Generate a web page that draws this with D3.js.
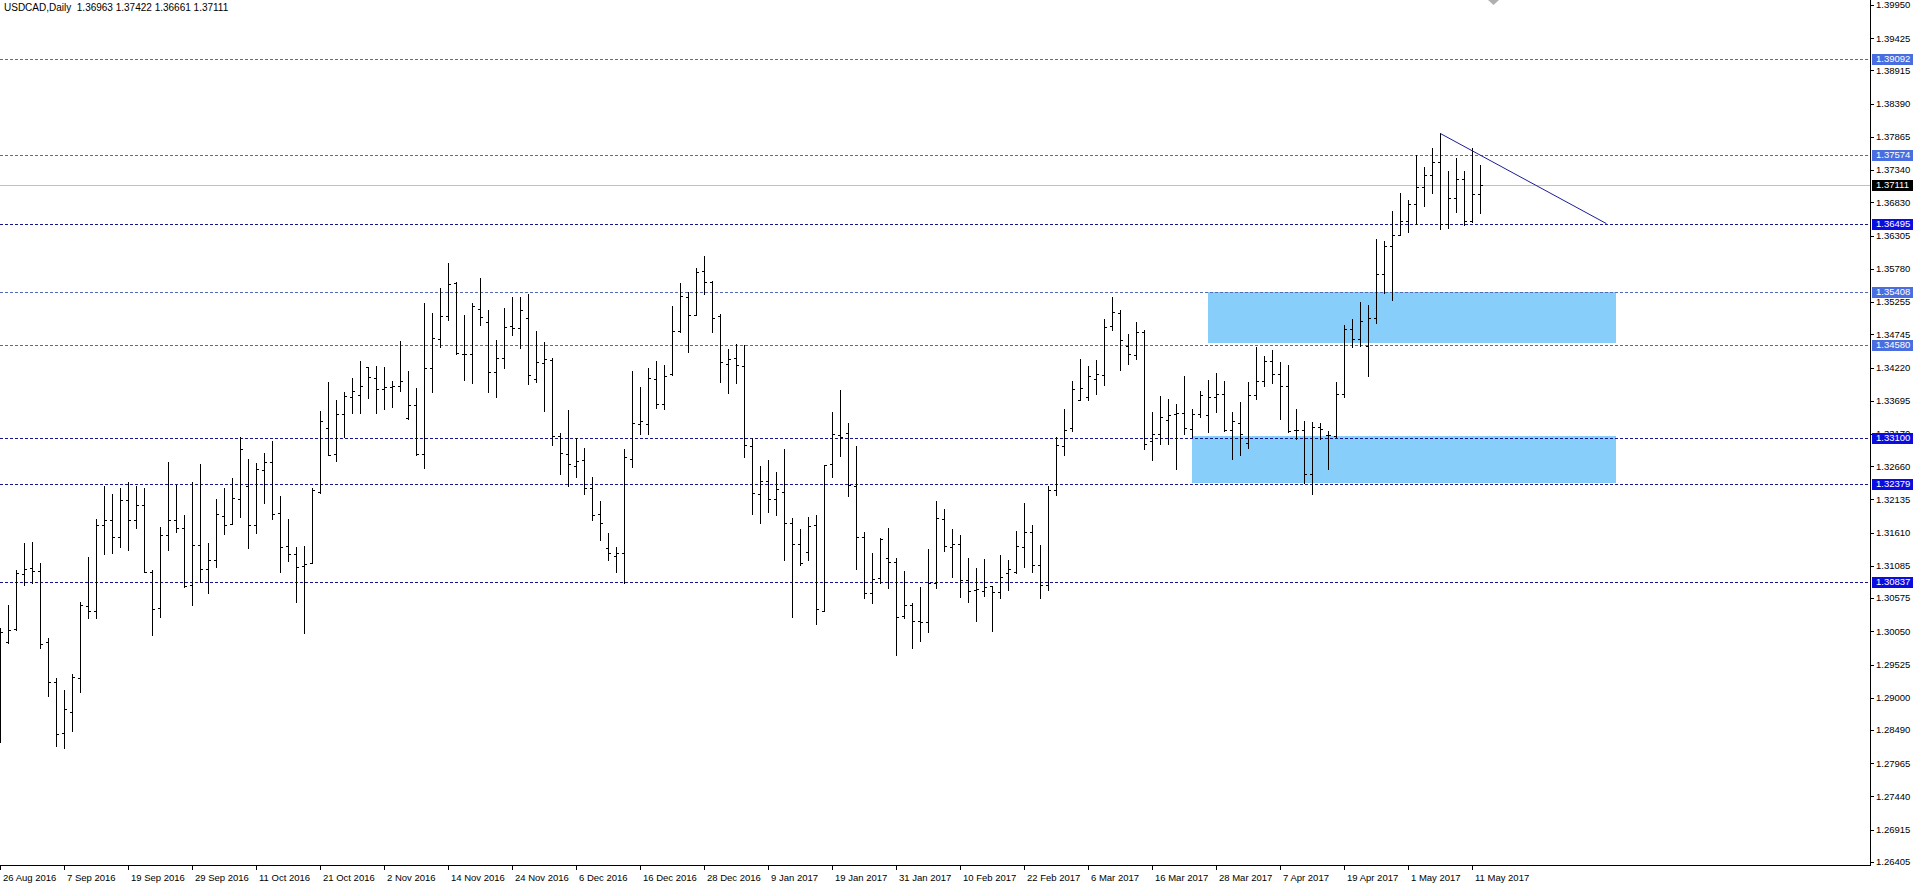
<!DOCTYPE html>
<html><head><meta charset="utf-8">
<script src="https://cdn.jsdelivr.net/npm/d3@7"></script>
<style>html,body{margin:0;padding:0;background:#fff;overflow:hidden}</style>
</head><body>
<svg id="c" width="1914" height="889"></svg>
<script>
const symbolTitle = "USDCAD,Daily";
const headerOHLC = ["1.36963", "1.37422", "1.36661", "1.37111"];
const dateLabels = ["26 Aug 2016","7 Sep 2016","19 Sep 2016","29 Sep 2016","11 Oct 2016","21 Oct 2016","2 Nov 2016","14 Nov 2016","24 Nov 2016","6 Dec 2016","16 Dec 2016","28 Dec 2016","9 Jan 2017","19 Jan 2017","31 Jan 2017","10 Feb 2017","22 Feb 2017","6 Mar 2017","16 Mar 2017","28 Mar 2017","7 Apr 2017","19 Apr 2017","1 May 2017","11 May 2017"];
const barsPerLabel = 8;

const opens = [1.28964,1.29876,1.30086,1.30951,1.31046,1.31003,1.29876,1.29253,1.28437,1.28769,1.29307,1.30449,1.30375,1.31730,1.31809,1.31540,1.32125,1.31809,1.32046,1.30992,1.30422,1.31572,1.31809,1.31683,1.30781,1.31414,1.31035,1.31177,1.31872,1.31746,1.32141,1.32346,1.31730,1.32594,1.32720,1.31915,1.31398,1.31267,1.31082,1.31125,1.32252,1.33259,1.32852,1.33480,1.33749,1.33791,1.34222,1.34054,1.33875,1.33906,1.33932,1.33417,1.33627,1.32852,1.34207,1.34670,1.35039,1.35551,1.34433,1.34428,1.35145,1.34944,1.34154,1.34365,1.34875,1.34839,1.35007,1.34033,1.34286,1.34338,1.33137,1.32857,1.32662,1.32757,1.32310,1.31899,1.31372,1.31240,1.31283,1.32773,1.33327,1.33327,1.34038,1.33638,1.34112,1.34797,1.35339,1.35045,1.35750,1.35577,1.35034,1.34270,1.34365,1.34243,1.32978,1.32220,1.32425,1.32146,1.32247,1.31767,1.31425,1.31308,1.31730,1.30370,1.32689,1.33153,1.33190,1.32352,1.31546,1.30649,1.30887,1.31204,1.31151,1.30296,1.30465,1.30217,1.30191,1.30808,1.31820,1.31377,1.31425,1.30860,1.30702,1.30691,1.30770,1.30665,1.30966,1.30992,1.31377,1.31620,1.31098,1.30781,1.32283,1.32974,1.33269,1.33711,1.33754,1.34043,1.34101,1.34870,1.35081,1.34555,1.34412,1.34781,1.33058,1.33174,1.33385,1.33490,1.33506,1.33253,1.33480,1.33464,1.33754,1.33796,1.33226,1.33338,1.33031,1.33785,1.34006,1.34317,1.34117,1.33927,1.33232,1.33232,1.32531,1.33285,1.33153,1.33137,1.33796,1.34828,1.34670,1.34559,1.34997,1.35693,1.36146,1.36319,1.36531,1.36804,1.37068,1.37263,1.37463,1.36488,1.36894,1.37195,1.36535,1.36963];
const highs = [1.30097,1.30465,1.31019,1.31441,1.31466,1.31125,1.29939,1.29307,1.29122,1.29370,1.30517,1.31229,1.31825,1.32346,1.32220,1.32315,1.32409,1.32346,1.32315,1.31019,1.31699,1.32725,1.32362,1.31888,1.32409,1.32694,1.31441,1.32141,1.32310,1.32468,1.33127,1.32773,1.32714,1.32872,1.33063,1.32188,1.31830,1.31377,1.31398,1.32310,1.33537,1.33985,1.33706,1.33838,1.34054,1.34322,1.34222,1.34243,1.34222,1.34006,1.34638,1.34164,1.33891,1.35235,1.35077,1.35472,1.35867,1.35567,1.35050,1.35235,1.35630,1.35129,1.34654,1.35155,1.35329,1.35339,1.35377,1.34797,1.34618,1.34365,1.33180,1.33548,1.33101,1.32942,1.32494,1.32109,1.31608,1.31388,1.32926,1.34164,1.33917,1.34212,1.34322,1.34259,1.35193,1.35551,1.35418,1.35788,1.35982,1.35587,1.35065,1.34512,1.34586,1.34575,1.33111,1.32662,1.32757,1.32567,1.32926,1.31836,1.31662,1.31862,1.31888,1.32678,1.33511,1.33864,1.33338,1.32978,1.31625,1.31283,1.31520,1.31678,1.31214,1.31003,1.30491,1.30755,1.31351,1.32109,1.31983,1.31667,1.31572,1.31214,1.31056,1.31193,1.30770,1.31256,1.31177,1.31635,1.32083,1.31730,1.31414,1.32346,1.33121,1.33569,1.34001,1.34359,1.34243,1.34343,1.34981,1.35334,1.35134,1.34744,1.34939,1.34817,1.33516,1.33775,1.33717,1.33648,1.34080,1.33569,1.33848,1.34017,1.34133,1.34006,1.33516,1.33680,1.33986,1.34539,1.34401,1.34496,1.34312,1.34259,1.33559,1.33380,1.33364,1.33348,1.33216,1.33986,1.34891,1.34981,1.35250,1.35203,1.36246,1.36225,1.36693,1.36973,1.36867,1.37579,1.37394,1.37690,1.37922,1.37326,1.37536,1.37326,1.37685,1.37422];
const lows = [1.28304,1.29860,1.30070,1.30781,1.30808,1.29790,1.29032,1.28241,1.28200,1.28473,1.29086,1.30264,1.30264,1.31272,1.31283,1.31387,1.31335,1.31683,1.30983,1.29991,1.30280,1.31335,1.31620,1.30749,1.30465,1.30833,1.30659,1.31071,1.31588,1.31741,1.31852,1.31372,1.31608,1.32073,1.31830,1.30992,1.31166,1.30517,1.30028,1.31125,1.32241,1.32837,1.32746,1.33127,1.33506,1.33506,1.33733,1.33506,1.33569,1.33590,1.33843,1.33401,1.32842,1.32631,1.33838,1.34549,1.34970,1.34428,1.34022,1.33980,1.34891,1.33838,1.33759,1.34217,1.34733,1.34523,1.33954,1.33986,1.33537,1.32989,1.32531,1.32352,1.32494,1.32215,1.31809,1.31493,1.31177,1.30992,1.30808,1.32652,1.33169,1.33164,1.33575,1.33559,1.34101,1.34781,1.34470,1.35045,1.35382,1.34786,1.33996,1.33822,1.33970,1.32800,1.31899,1.31757,1.31941,1.31888,1.31177,1.30270,1.31098,1.31177,1.30165,1.30370,1.32494,1.32826,1.32188,1.31040,1.30580,1.30501,1.30818,1.30739,1.29675,1.30254,1.29780,1.29901,1.30043,1.30728,1.31324,1.30913,1.30596,1.30517,1.30217,1.30612,1.30054,1.30580,1.30707,1.30976,1.31071,1.30987,1.30576,1.30702,1.32204,1.32837,1.33216,1.33701,1.33711,1.33806,1.33948,1.34807,1.34185,1.34280,1.34359,1.32936,1.32752,1.33016,1.33016,1.32620,1.33174,1.33121,1.33438,1.33200,1.33516,1.33216,1.32768,1.32842,1.32942,1.33717,1.33927,1.33970,1.33401,1.33205,1.33084,1.32389,1.32220,1.33084,1.32610,1.33127,1.33759,1.34549,1.34559,1.34090,1.34918,1.35402,1.35287,1.36314,1.36357,1.36488,1.36777,1.36983,1.36404,1.36420,1.36683,1.36472,1.36525,1.36661];
const closes = [1.30043,1.30070,1.30967,1.31030,1.31003,1.29844,1.29253,1.28421,1.28821,1.29333,1.30465,1.30375,1.31730,1.31809,1.31540,1.32125,1.31809,1.32046,1.30992,1.30402,1.31572,1.31809,1.31683,1.30770,1.31414,1.31030,1.31177,1.31904,1.31730,1.32152,1.32926,1.31730,1.32615,1.32730,1.31904,1.31377,1.31267,1.31061,1.31109,1.32283,1.33374,1.32842,1.33480,1.33775,1.33848,1.33927,1.34064,1.33875,1.33906,1.33932,1.34006,1.33627,1.32852,1.34207,1.34681,1.35039,1.35535,1.34443,1.34433,1.35193,1.35018,1.34154,1.34375,1.34860,1.34849,1.35129,1.34101,1.34302,1.34349,1.33137,1.32868,1.32694,1.32741,1.32310,1.31888,1.31767,1.31283,1.31283,1.32800,1.33338,1.33374,1.34059,1.33638,1.34091,1.34797,1.35350,1.35045,1.35735,1.35577,1.34997,1.34312,1.34359,1.34259,1.32994,1.32231,1.32425,1.32146,1.32294,1.31767,1.31425,1.31125,1.31720,1.30397,1.32678,1.33164,1.33127,1.32362,1.31535,1.30649,1.30871,1.31509,1.31151,1.30270,1.30465,1.30217,1.30191,1.30808,1.31836,1.31403,1.31425,1.30860,1.30691,1.30713,1.30744,1.30665,1.30902,1.31035,1.31393,1.31615,1.31098,1.30781,1.32283,1.32990,1.33227,1.33885,1.33901,1.34080,1.34112,1.34860,1.35097,1.34649,1.34428,1.34781,1.33006,1.33174,1.33438,1.33464,1.33506,1.33269,1.33490,1.33780,1.33754,1.33796,1.33237,1.33374,1.33164,1.33785,1.34006,1.34317,1.34112,1.33927,1.33216,1.33232,1.32531,1.33275,1.33253,1.33153,1.33796,1.34828,1.34670,1.34950,1.34997,1.35693,1.36146,1.36319,1.36531,1.36804,1.37068,1.37263,1.37473,1.36488,1.36894,1.37195,1.36535,1.36962,1.37111];

const priceTicks = [1.39950,1.39425,1.38915,1.38390,1.37865,1.37340,1.36830,1.36305,1.35780,1.35255,1.34745,1.34220,1.33695,1.33170,1.32660,1.32135,1.31610,1.31085,1.30575,1.30050,1.29525,1.29000,1.28490,1.27965,1.27440,1.26915,1.26405];
const levelsLight = [1.39092, 1.37574, 1.35408, 1.34580];
const levelsDark = [1.36495, 1.33100, 1.32379, 1.30837];
const bidPrice = 1.37111;
const zoneStart = [151, 149];
const zoneEnd = [202, 202];
const zoneTop = [1.35408, 1.33137];
const zoneBottom = [1.34612, 1.32390];
const trendIdx = [180, 200.8];
const trendPrice = [1.37922, 1.36495];

const plotRight = 1870, plotBottom = 865;
const x = d3.scaleLinear().domain([0, 233.75]).range([0, plotRight]);
const y = d3.scaleLinear().domain([1.263557, 1.400294]).range([plotBottom, 0]);
const FONT = "'Liberation Sans', Arial, sans-serif";

const svg = d3.select("#c");
svg.append("rect").attr("width",1914).attr("height",889).attr("fill","#fff");

const gPlot = svg.append("g").attr("shape-rendering","crispEdges");

// zones
gPlot.selectAll("rect.zone").data(zoneStart).join("rect").attr("class","zone")
  .attr("x",(d,i)=>Math.round(x(d)))
  .attr("width",(d,i)=>Math.round(x(zoneEnd[i]))-Math.round(x(d)))
  .attr("y",(d,i)=>Math.round(y(zoneTop[i])))
  .attr("height",(d,i)=>Math.round(y(zoneBottom[i]))-Math.round(y(zoneTop[i])))
  .attr("fill","#87cefa");

// bid line
gPlot.append("line").attr("x1",0).attr("x2",plotRight)
  .attr("y1",Math.round(y(bidPrice))+0.5).attr("y2",Math.round(y(bidPrice))+0.5)
  .attr("stroke","#c0c0c0").attr("stroke-width",1);

// levels
function levelLines(arr, color){
  gPlot.selectAll(null).data(arr).join("line")
    .attr("x1",0).attr("x2",plotRight)
    .attr("y1",d=>Math.round(y(d))+0.5).attr("y2",d=>Math.round(y(d))+0.5)
    .attr("stroke",color).attr("stroke-width",1).attr("stroke-dasharray","3,2");
}
levelLines(levelsLight, "#5468b4");
levelLines(levelsDark, "#14148c");

// bars
const idx = d3.range(opens.length);
const gBars = gPlot.append("g").attr("stroke","#000").attr("stroke-width",1);
gBars.selectAll("line.hl").data(idx).join("line").attr("class","hl")
  .attr("x1",i=>Math.round(x(i))+0.5).attr("x2",i=>Math.round(x(i))+0.5)
  .attr("y1",i=>Math.round(y(highs[i]))).attr("y2",i=>Math.round(y(lows[i]))+1);
gBars.selectAll("line.op").data(idx).join("line").attr("class","op")
  .attr("x1",i=>Math.round(x(i))-2).attr("x2",i=>Math.round(x(i)))
  .attr("y1",i=>Math.round(y(opens[i]))+0.5).attr("y2",i=>Math.round(y(opens[i]))+0.5);
gBars.selectAll("line.cl").data(idx).join("line").attr("class","cl")
  .attr("x1",i=>Math.round(x(i))+1).attr("x2",i=>Math.round(x(i))+3)
  .attr("y1",i=>Math.round(y(closes[i]))+0.5).attr("y2",i=>Math.round(y(closes[i]))+0.5);

// trend line
svg.append("line")
  .attr("x1",x(trendIdx[0])).attr("y1",y(trendPrice[0]))
  .attr("x2",x(trendIdx[1])).attr("y2",y(trendPrice[1]))
  .attr("stroke","#1c1c96").attr("stroke-width",1);

// frame
gPlot.append("line").attr("x1",plotRight+0.5).attr("x2",plotRight+0.5).attr("y1",0).attr("y2",plotBottom+1).attr("stroke","#000");
gPlot.append("line").attr("x1",0).attr("x2",plotRight+1).attr("y1",plotBottom+0.5).attr("y2",plotBottom+0.5).attr("stroke","#000");

// right axis ticks & labels
const gAx = svg.append("g");
gAx.selectAll("line.pt").data(priceTicks).join("line")
  .attr("shape-rendering","crispEdges")
  .attr("x1",plotRight).attr("x2",plotRight+4)
  .attr("y1",d=>Math.round(y(d))+0.5).attr("y2",d=>Math.round(y(d))+0.5).attr("stroke","#000");
gAx.selectAll("text.pt").data(priceTicks).join("text")
  .attr("x",plotRight+6).attr("y",d=>y(d)).attr("dy","0.35em")
  .attr("font-family",FONT).attr("font-size","9.5px").attr("fill","#000")
  .text(d=>d.toFixed(5));

// price boxes
function priceBox(p, bg){
  const yc = Math.round(y(p));
  gAx.append("rect").attr("x",plotRight+2).attr("y",yc-5).attr("width",41).attr("height",11).attr("fill",bg);
  gAx.append("text").attr("x",plotRight+6).attr("y",yc).attr("dy","0.36em")
    .attr("font-family",FONT).attr("font-size","9.5px").attr("fill","#fff").text(p.toFixed(5));
}
levelsLight.forEach(p=>priceBox(p,"#4a6ee0"));
levelsDark.forEach(p=>priceBox(p,"#0c0ce0"));
priceBox(bidPrice,"#000");

// date axis
const gDate = svg.append("g");
gDate.selectAll("line").data(dateLabels).join("line").attr("shape-rendering","crispEdges")
  .attr("x1",(d,i)=>Math.round(x(i*barsPerLabel))+0.5).attr("x2",(d,i)=>Math.round(x(i*barsPerLabel))+0.5)
  .attr("y1",plotBottom).attr("y2",plotBottom+5).attr("stroke","#000");
gDate.selectAll("text").data(dateLabels).join("text")
  .attr("x",(d,i)=>x(i*barsPerLabel)+3).attr("y",881)
  .attr("font-family",FONT).attr("font-size","9.5px").attr("fill","#000").text(d=>d);

// header
svg.append("text").attr("x",4).attr("y",11).attr("font-family",FONT).attr("font-size","10px").attr("fill","#000")
  .attr("xml:space","preserve").text(symbolTitle + "  " + headerOHLC.join(" "));

// chart shift marker
svg.append("path").attr("d","M1488,0 L1499,0 L1493.5,5 Z").attr("fill","#b0b0b0");
</script>
</body></html>
